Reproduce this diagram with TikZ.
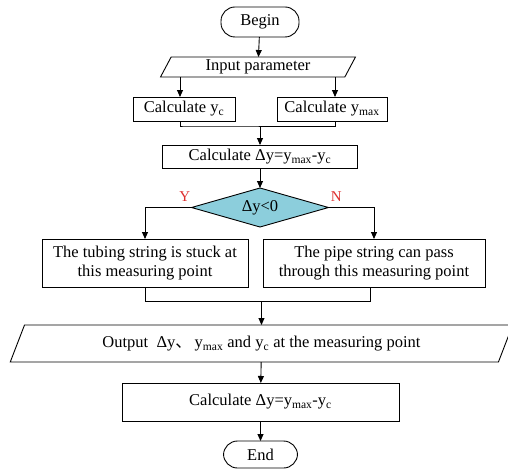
\documentclass[tikz,border=0pt]{standalone}
\usepackage{fontspec}
\setmainfont{Liberation Serif}
\newfontfamily\cjk{Noto Sans CJK SC}
\usetikzlibrary{positioning,arrows.meta,shapes.geometric}
\definecolor{decfill}{RGB}{140,206,220}
\definecolor{ynred}{RGB}{222,48,48}

\begin{document}
\begin{tikzpicture}[x=1pt,y=1pt,line width=0.9pt,
                    >={Triangle[length=7pt,width=6pt]},
                    every node/.style={font=\fontsize{16.5}{19}\selectfont,outer sep=0pt},
                    term/.style={draw,rounded corners=14pt,minimum width=78pt,
                                 minimum height=30pt,inner sep=2pt},
                    proc/.style={draw,minimum height=24pt,inner sep=2pt},
                    io/.style={draw,trapezium,trapezium stretches=true,
                               trapezium left angle=70,trapezium right angle=110,
                               inner sep=2pt},
                    decision/.style={draw,diamond,fill=decfill,aspect=3.5,
                                     minimum width=137pt,minimum height=39pt,inner sep=0pt},
                    yn/.style={text=ynred,font=\fontsize{15}{18}\selectfont}]
  \useasboundingbox (0,0) rectangle (508,-470);

  \node[term] (begin) at (260,-22) {Begin};
  \node[io,minimum width=195pt,minimum height=20pt,below=20pt of begin,xshift=-2pt] (input) {Input parameter};
  \node[proc,minimum width=102pt,below=20pt of input,xshift=-74pt] (yc) {Calculate y\textsubscript{c}};
  \node[proc,minimum width=110pt,below=20pt of input,xshift=74pt] (ymax) {Calculate y\textsubscript{max}};
  \node[proc,minimum width=195pt,minimum height=23pt,below=68pt of input,xshift=2pt] (dy) {Calculate Δy=y\textsubscript{max}-y\textsubscript{c}};
  \node[decision,below=20pt of dy] (chk) {Δy<0};

  \node[proc,minimum width=206pt,minimum height=48pt,align=center,below=12pt of chk,xshift=-115pt] (stuck)
       {The tubing string is stuck at\\this measuring point};
  \node[proc,minimum width=222pt,minimum height=48pt,align=center,below=12pt of chk,xshift=114pt] (pass)
       {The pipe string can pass\\through this measuring point};

  \node[io,trapezium left angle=63,trapezium right angle=117,minimum width=505pt,minimum height=37pt,
        below=98pt of chk,xshift=1.5pt] (out)
       {Output\ \ Δy{\cjk 、}\,y\textsubscript{max} and y\textsubscript{c} at the measuring point};
  \node[proc,minimum width=277pt,minimum height=38pt,below=21pt of out,xshift=-1pt] (final)
       {Calculate Δy=y\textsubscript{max}-y\textsubscript{c}};
  \node[term,minimum width=74pt,minimum height=27pt,below=20pt of final] (end) {End};

  \node[yn,above left=3pt and -2pt of chk.west] (yes) {Y};
  \node[yn,above right=3pt and -1pt of chk.east] (no) {N};

  \draw[->] (begin) -- (input);
  \draw[->] ([xshift=-4pt]yc.north |- input.south) -- ([xshift=-4pt]yc.north);
  \draw[->] ([xshift=3pt]ymax.north |- input.south) -- ([xshift=3pt]ymax.north);
  \coordinate[below=5pt of yc.south] (j1);
  \draw ([xshift=-4pt]yc.south) |- (j1) -| ([xshift=3pt]ymax.south);
  \draw[->] (j1 -| dy) -- (dy);
  \draw[->] (dy) -- (chk);
  \draw[->] (chk) -| (stuck);
  \draw[->] (chk) -| (pass);
  \coordinate[below=14pt of stuck.south] (j2);
  \draw (stuck) -- (j2) -| ([xshift=-4pt]pass.south);
  \draw[->] (j2 -| out) -- (out);
  \draw[->] (out) -- (final);
  \draw[->] (final) -- (end);
\end{tikzpicture}
\end{document}
